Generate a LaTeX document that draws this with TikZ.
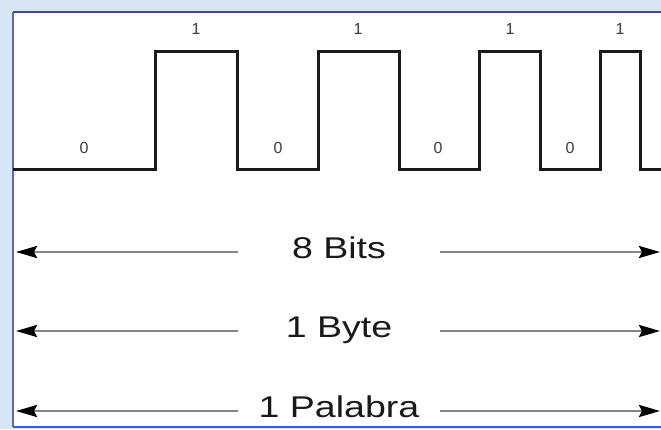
\documentclass[tikz,border=0pt]{standalone}
\usepackage{fontspec}
\setmainfont{Liberation Sans}
\usetikzlibrary{arrows.meta}
\definecolor{bgblue}{HTML}{D8E5F5}
\definecolor{leftb}{HTML}{5A66C2}
\definecolor{topb}{HTML}{3A48A8}
\definecolor{botb}{HTML}{2B66DD}
\definecolor{linegray}{HTML}{858585}
\definecolor{wave}{HTML}{1A1A1A}
\definecolor{digit}{HTML}{3C3C3C}
\tikzset{
  wavepath/.style={draw=wave, line width=3pt, line join=miter},
  bitlabel/.style={anchor=base, inner sep=0pt, text=digit, font=\fontsize{16}{16}\selectfont},
  unitlabel/.style={minimum width=202pt, inner sep=0pt, text height=12pt, text depth=0pt, text=black!90, font=\fontsize{30}{30}\selectfont},
  measure/.style={draw=linegray, line width=2.6pt, -{Stealth[length=21pt,width=12pt,inset=3pt,fill=black,color=black]}},
}
\begin{document}
\begin{tikzpicture}[x=1pt,y=-1pt]
\useasboundingbox (0,0) rectangle (661,429);
\fill[bgblue] (0,0) rectangle (661,429);
\fill[white] (13,12) rectangle (661,427);
\draw[topb, line width=1.4pt] (13,12) -- (661,12);
\draw[leftb, line width=1.6pt] (13,12) -- (13,427);
\draw[botb, line width=2pt] (13,427) -- (661,427);

% waveform
\draw[wavepath] (13,169) -- (155,169) -- (155,51) -- (237,51) -- (237,169)
  -- (318,169) -- (318,51) -- (399,51) -- (399,169)
  -- (479,169) -- (479,51) -- (540,51) -- (540,169)
  -- (600,169) -- (600,51) -- (640,51) -- (640,169) -- (661,169);

% bit labels
\node[bitlabel] (b1) at (84,153) {0};
\node[bitlabel] (b2) at (196,34) {1};
\node[bitlabel] (b3) at (278,153) {0};
\node[bitlabel] (b4) at (358,34) {1};
\node[bitlabel] (b5) at (438,153) {0};
\node[bitlabel] (b6) at (510,34) {1};
\node[bitlabel] (b7) at (570,153) {0};
\node[bitlabel] (b8) at (620,34) {1};

% measures
\node[unitlabel] (t1) at (339,252) {\scalebox{1.25}[1]{8 Bits}};
\node[unitlabel] (t2) at (339,331) {\scalebox{1.25}[1]{1 Byte}};
\node[unitlabel] (t3) at (339,411) {\scalebox{1.25}[1]{1 Palabra}};
\coordinate (l1) at (16,252);
\coordinate (r1) at (660,252);
\coordinate (l2) at (16,331);
\coordinate (r2) at (660,331);
\coordinate (l3) at (16,411);
\coordinate (r3) at (660,411);
\draw[measure] (t1.west) -- (l1);
\draw[measure] (t1.east) -- (r1);
\draw[measure] (t2.west) -- (l2);
\draw[measure] (t2.east) -- (r2);
\draw[measure] (t3.west) -- (l3);
\draw[measure] (t3.east) -- (r3);
\end{tikzpicture}
\end{document}
